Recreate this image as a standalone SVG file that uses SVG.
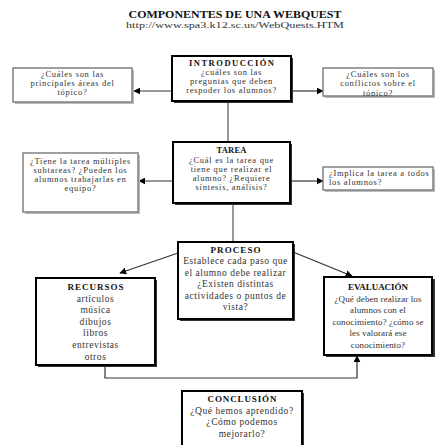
<svg xmlns="http://www.w3.org/2000/svg" width="435" height="445" viewBox="0 0 435 445">
<style>
text{font-family:"Liberation Serif","Times New Roman",serif;fill:#333;text-anchor:middle}
.t{font-size:10px;font-weight:bold;fill:#111}
.u{font-size:8.5px}
.h{font-size:8.5px;font-weight:bold;fill:#111}
.s{font-size:8.5px;letter-spacing:0.7px}
.m{font-size:9.5px;letter-spacing:0.55px}
.e{font-size:9px;letter-spacing:0.1px}
.hm{font-size:9px;font-weight:bold;fill:#111}
.main{fill:#fff;stroke:#000;stroke-width:2}
.mshadow{fill:#333;stroke:none}
.side{fill:#fff;stroke:#808080;stroke-width:1.5}
.sshadow{fill:#bbb;stroke:none}
.c{fill:none;stroke:#555;stroke-width:1.2}
.ca{fill:none;stroke:#333;stroke-width:1.2;marker-end:url(#ah)}
</style>
<defs>
<marker id="ah" viewBox="0 0 10 10" refX="9" refY="5" markerWidth="7" markerHeight="7" markerUnits="userSpaceOnUse" orient="auto">
<path d="M0,0 L10,5 L0,10 z" fill="#000"/>
</marker>
<clipPath id="cr1"><rect x="323" y="68" width="110" height="28"/></clipPath>
<clipPath id="crec"><rect x="36" y="278" width="119" height="86"/></clipPath>
</defs>
<rect width="435" height="445" fill="#fff"/>
<g id="title">
<text class="t" x="235" y="18" textLength="213" lengthAdjust="spacingAndGlyphs">COMPONENTES DE UNA WEBQUEST</text>
<text class="u" x="235" y="28" textLength="218" lengthAdjust="spacingAndGlyphs">http://www.spa3.k12.sc.us/WebQuests.HTM</text>
</g>
<g id="connectors">
<line class="c" x1="228" y1="102" x2="228" y2="142"/>
<line class="ca" x1="172" y1="91" x2="134" y2="91"/>
<line class="ca" x1="292" y1="91" x2="323" y2="91"/>
<line class="c" x1="233" y1="204" x2="233" y2="242"/>
<line class="ca" x1="173" y1="181" x2="139" y2="181"/>
<line class="ca" x1="291" y1="181" x2="323" y2="181"/>
<line class="ca" x1="178" y1="253" x2="120" y2="273"/>
<line class="ca" x1="293" y1="252" x2="352" y2="276"/>
<polyline class="ca" points="105,366 105,378 357,378 357,356"/>
</g>
<g id="introduccion">
<rect class="mshadow" x="174" y="58" width="119" height="45"/>
<rect class="main" x="172" y="56" width="119" height="45"/>
<text class="h" x="231.5" y="66" textLength="85" lengthAdjust="spacing">INTRODUCCIÓN</text>
<text class="s" x="231.5" y="75">¿cuáles son las</text>
<text class="s" x="231.5" y="84">preguntas que deben</text>
<text class="s" x="231.5" y="93">respoder los alumnos?</text>
</g>
<g id="areas">
<rect class="sshadow" x="15" y="70" width="119" height="34"/>
<rect class="side" x="13" y="68" width="119" height="34"/>
<text class="s" x="72.5" y="77">¿Cuáles son las</text>
<text class="s" x="72.5" y="86">principales áreas del</text>
<text class="s" x="72.5" y="95">tópico?</text>
</g>
<g id="conflictos">
<rect class="sshadow" x="325" y="70" width="110" height="28"/>
<rect class="side" x="323" y="68" width="110" height="28"/>
<g clip-path="url(#cr1)">
<text class="s" x="378" y="77">¿Cuáles son los</text>
<text class="s" x="378" y="86">conflictos sobre el</text>
<text class="s" x="378" y="95.5">tópico?</text>
</g>
</g>
<g id="tarea">
<rect class="mshadow" x="175" y="144" width="117" height="61"/>
<rect class="main" x="173" y="142" width="117" height="61"/>
<text class="h" x="231.5" y="153" textLength="30" lengthAdjust="spacing">TAREA</text>
<text class="s" x="231.5" y="163">¿Cuál es la tarea que</text>
<text class="s" x="231.5" y="172">tiene que realizar el</text>
<text class="s" x="231.5" y="181">alumno? ¿Requiere</text>
<text class="s" x="231.5" y="190">síntesis, análisis?</text>
</g>
<g id="subtareas">
<rect class="sshadow" x="25" y="155" width="115" height="59"/>
<rect class="side" x="23" y="153" width="115" height="59"/>
<text class="s" x="80.5" y="164">¿Tiene la tarea múltiples</text>
<text class="s" x="80.5" y="173">subtareas? ¿Pueden los</text>
<text class="s" x="80.5" y="182">alumnos trabajarlas en</text>
<text class="s" x="80.5" y="191">equipo?</text>
</g>
<g id="implica">
<rect class="sshadow" x="325" y="169" width="110" height="23"/>
<rect class="side" x="323" y="167" width="110" height="23"/>
<text class="s" x="329" y="176" style="text-anchor:start">¿Implica la tarea a todos</text>
<text class="s" x="329" y="185" style="text-anchor:start">los alumnos?</text>
</g>
<g id="proceso">
<rect class="mshadow" x="180" y="244" width="115" height="77"/>
<rect class="main" x="178" y="242" width="115" height="77"/>
<text class="hm" x="235.5" y="253" textLength="50" lengthAdjust="spacing">PROCESO</text>
<text class="m" x="235.5" y="264">Establece cada paso que</text>
<text class="m" x="235.5" y="275.5">el alumno debe realizar</text>
<text class="m" x="235.5" y="287">¿Existen distintas</text>
<text class="m" x="235.5" y="298.5">actividades o puntos de</text>
<text class="m" x="235.5" y="310">vista?</text>
</g>
<g id="recursos">
<rect class="mshadow" x="38" y="280" width="119" height="87"/>
<rect class="main" x="36" y="278" width="119" height="87"/>
<g clip-path="url(#crec)">
<text class="hm" x="95.5" y="290" textLength="56" lengthAdjust="spacing">RECURSOS</text>
<text class="m" x="95.5" y="301.5">artículos</text>
<text class="m" x="95.5" y="313">música</text>
<text class="m" x="95.5" y="324.5">dibujos</text>
<text class="m" x="95.5" y="336">libros</text>
<text class="m" x="95.5" y="347.5">entrevistas</text>
<text class="m" x="95.5" y="359.5">otros</text>
</g>
</g>
<g id="evaluacion">
<rect class="mshadow" x="326" y="279" width="109" height="78"/>
<rect class="main" x="324" y="277" width="108" height="78"/>
<text class="hm" x="378" y="290" textLength="60" lengthAdjust="spacing">EVALUACIÓN</text>
<text class="e" x="378" y="301.5">¿Qué deben realizar los</text>
<text class="e" x="378" y="313">alumnos con el</text>
<text class="e" x="378" y="324.5">conocimiento? ¿cómo se</text>
<text class="e" x="378" y="336">les valorará ese</text>
<text class="e" x="378" y="347.5">conocimiento?</text>
</g>
<g id="conclusion">
<rect class="mshadow" x="184" y="393" width="120" height="60"/>
<rect class="main" x="182" y="391" width="120" height="60"/>
<text class="hm" x="242" y="402" textLength="69" lengthAdjust="spacing">CONCLUSIÓN</text>
<text class="m" x="242" y="413.5">¿Qué hemos aprendido?</text>
<text class="m" x="242" y="425">¿Cómo podemos</text>
<text class="m" x="242" y="436.5">mejorarlo?</text>
</g>
</svg>
